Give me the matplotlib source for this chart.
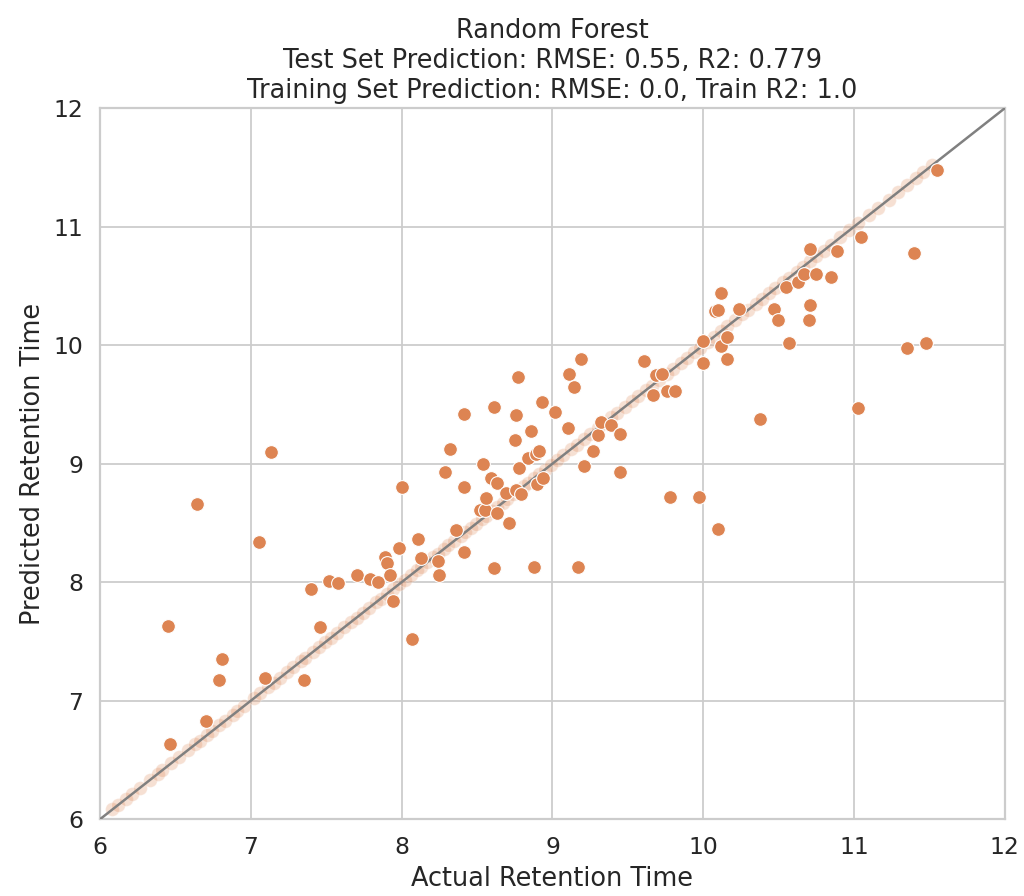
import numpy as np
import matplotlib
matplotlib.use("Agg")
import matplotlib.pyplot as plt
import seaborn as sns

# test set: actual vs predicted retention time
test_actual = [6.45, 6.46, 6.64, 6.70, 6.79, 6.81, 7.05, 7.09, 7.13, 7.35, 7.40, 7.46,
               7.52, 7.58, 7.70, 7.79, 7.84, 7.89, 7.90, 7.92, 7.94, 7.98, 8.00, 8.07,
               8.11, 8.13, 8.24, 8.25, 8.29, 8.32, 8.36, 8.41, 8.41, 8.41, 8.52, 8.54,
               8.55, 8.56, 8.59, 8.61, 8.61, 8.63, 8.63, 8.69, 8.71, 8.75, 8.76, 8.76,
               8.77, 8.78, 8.79, 8.84, 8.86, 8.88, 8.89, 8.90, 8.91, 8.93, 8.94, 9.02,
               9.10, 9.11, 9.14, 9.17, 9.19, 9.21, 9.27, 9.30, 9.32, 9.39, 9.45, 9.45,
               9.61, 9.67, 9.69, 9.73, 9.76, 9.78, 9.81, 9.97, 10.00, 10.00, 10.08, 10.10,
               10.10, 10.12, 10.12, 10.16, 10.16, 10.24, 10.38, 10.47, 10.50, 10.55, 10.57,
               10.63, 10.67, 10.70, 10.71, 10.71, 10.75, 10.85, 10.89, 11.03, 11.05, 11.35,
               11.40, 11.48, 11.55]
test_pred = [7.63, 6.63, 8.66, 6.83, 7.17, 7.35, 8.34, 7.19, 9.10, 7.17, 7.94, 7.62,
             8.01, 7.99, 8.06, 8.03, 8.00, 8.21, 8.16, 8.06, 7.84, 8.29, 8.80, 7.52,
             8.36, 8.20, 8.18, 8.06, 8.93, 9.12, 8.44, 9.42, 8.80, 8.25, 8.61, 9.00,
             8.61, 8.71, 8.88, 9.48, 8.12, 8.84, 8.58, 8.75, 8.50, 9.20, 9.41, 8.78,
             9.73, 8.96, 8.74, 9.05, 9.28, 8.13, 9.08, 8.83, 9.11, 9.52, 8.88, 9.44,
             9.30, 9.76, 9.65, 8.13, 9.88, 8.98, 9.11, 9.24, 9.35, 9.33, 9.25, 8.93,
             9.87, 9.58, 9.75, 9.76, 9.61, 8.72, 9.61, 8.72, 9.85, 10.04, 10.29, 10.30,
             8.45, 9.99, 10.44, 10.07, 9.88, 10.31, 9.38, 10.31, 10.21, 10.49, 10.02,
             10.53, 10.60, 10.21, 10.81, 10.34, 10.60, 10.58, 10.80, 9.47, 10.91, 9.98,
             10.78, 10.02, 11.48]

# training set (fit is exact, RMSE 0.0)
train_actual = [6.08, 6.12, 6.17, 6.21, 6.26, 6.33, 6.38, 6.41, 6.47, 6.52, 6.58, 6.63,
                6.66, 6.71, 6.74, 6.79, 6.83, 6.88, 6.91, 6.95, 7.02, 7.06, 7.11, 7.15,
                7.19, 7.24, 7.28, 7.33, 7.36, 7.41, 7.45, 7.49, 7.53, 7.57, 7.62, 7.66,
                7.70, 7.74, 7.78, 7.83, 7.86, 7.90, 7.94, 7.98, 8.02, 8.06, 8.10, 8.13,
                8.17, 8.21, 8.24, 8.28, 8.31, 8.35, 8.39, 8.42, 8.46, 8.49, 8.53, 8.56,
                8.60, 8.63, 8.67, 8.70, 8.74, 8.77, 8.81, 8.84, 8.88, 8.91, 8.95, 8.99,
                9.03, 9.07, 9.12, 9.16, 9.21, 9.25, 9.30, 9.34, 9.39, 9.43, 9.48, 9.53,
                9.57, 9.62, 9.66, 9.71, 9.76, 9.80, 9.85, 9.89, 9.94, 9.98, 10.03, 10.07,
                10.12, 10.16, 10.21, 10.26, 10.30, 10.35, 10.39, 10.44, 10.48, 10.53,
                10.57, 10.62, 10.66, 10.71, 10.75, 10.80, 10.85, 10.91, 10.97, 11.03,
                11.10, 11.16, 11.23, 11.29, 11.35, 11.41, 11.46, 11.52]
train_pred = list(train_actual)

ticks = [6, 7, 8, 9, 10, 11, 12]

sns.set_theme(style="whitegrid", font_scale=1.2)
orange = sns.color_palette("deep")[1]

fig, ax = plt.subplots(figsize=(8, 7), dpi=128)
fig.subplots_adjust(left=0.098, right=0.981, top=0.879, bottom=0.086)

sns.scatterplot(x=train_actual, y=train_pred, color=orange, alpha=0.25, s=60, ax=ax, zorder=2)
ax.plot([6, 12], [6, 12], color="gray", lw=1.4, zorder=3)
sns.scatterplot(x=test_actual, y=test_pred, color=orange, s=60, ax=ax, zorder=4)

ax.set_xlim(6, 12)
ax.set_ylim(6, 12)
ax.set_xticks(ticks)
ax.set_yticks(ticks)
ax.set_xlabel("Actual Retention Time")
ax.set_ylabel("Predicted Retention Time")
ax.set_title("Random Forest\nTest Set Prediction: RMSE: 0.55, R2: 0.779\n"
             "Training Set Prediction: RMSE: 0.0, Train R2: 1.0")

fig.savefig("out.png", dpi=128)
